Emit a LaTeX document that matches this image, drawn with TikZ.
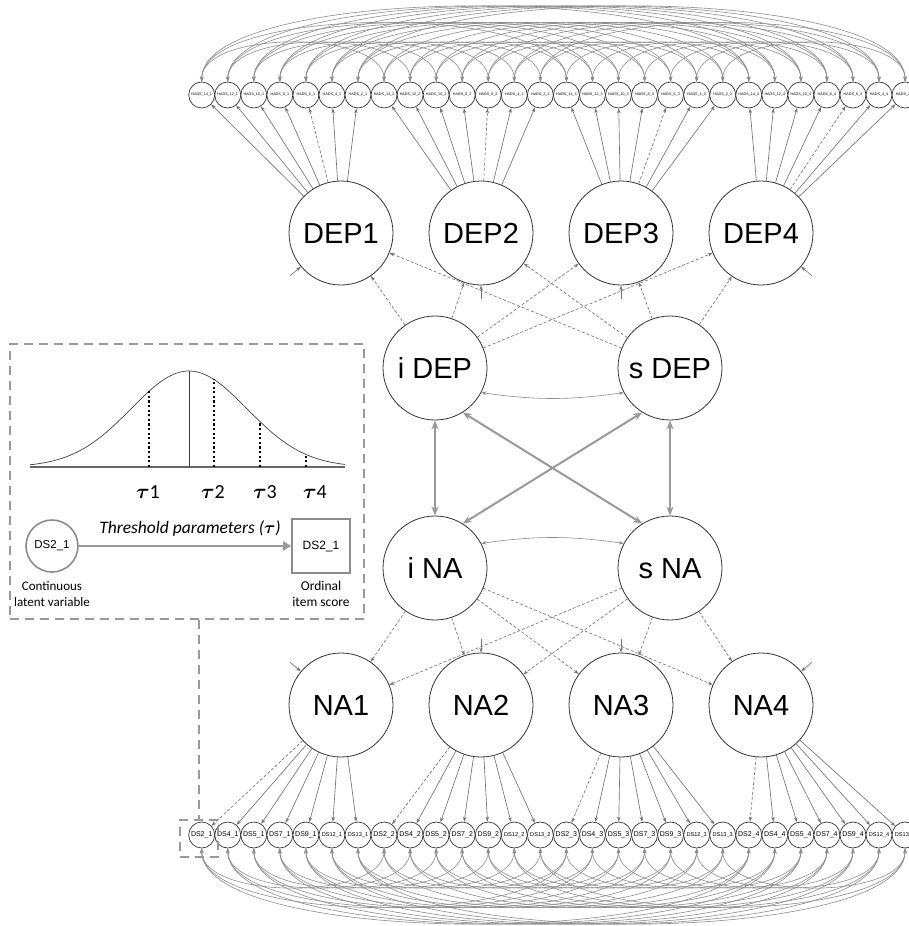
\documentclass[tikz,border=0pt]{standalone}
\usepackage{amsmath}
\usepackage{fontspec}
\setmainfont{Liberation Sans}
\newfontfamily\calib{Carlito}
\usetikzlibrary{arrows.meta,calc}
\begin{document}
\begin{tikzpicture}[x=1pt,y=-1pt,
  lat/.style={circle,draw=black!80,line width=0.8pt,fill=white,minimum size=104pt,inner sep=0pt,text height=21pt,text depth=0pt,font=\fontsize{29}{30}\selectfont},
  itm/.style={circle,draw=black!80,line width=0.7pt,fill=white,minimum size=26pt,inner sep=0pt},
  ld/.style={draw=black!55,line width=0.65pt,-{Stealth[length=5pt,width=3.5pt]}},
  ldd/.style={ld,dash pattern=on 3pt off 2pt},
  cov/.style={draw=black!45,line width=0.6pt,{Stealth[length=5pt,width=3.5pt]}-{Stealth[length=5pt,width=3.5pt]}},
  thk/.style={draw=black!40,line width=2pt,{Stealth[length=9pt,width=7pt]}-{Stealth[length=9pt,width=7pt]}},
  boxdash/.style={draw=black!40,line width=2.2pt,dash pattern=on 9pt off 6pt},
]
\useasboundingbox (0,0) rectangle (909,926);

% latent factors
\foreach \k/\x in {1/341,2/481,3/621,4/761} {
  \node[lat] (DEP\k) at (\x,233) {DEP\k};
  \node[lat] (NA\k) at (\x,705) {NA\k};
}
\node[lat] (iDEP) at (435,368) {i DEP};
\node[lat] (sDEP) at (670,368) {s DEP};
\node[lat] (iNA) at (435,568) {i NA};
\node[lat] (sNA) at (670,568) {s NA};

% items and loadings
\foreach \k in {1,...,4} {
  \foreach \q [count=\c] in {14,12,10,8,6,4,2} {
    \pgfmathtruncatemacro\n{(\k-1)*7+\c}
    \node[itm,font=\fontsize{3.7}{4}\selectfont] (t\n) at ({201.7+(\n-1)*26.05},95) {HADS\_\q\_\k};
    \ifnum\c=5 \draw[ldd] (DEP\k) -- (t\n); \else \draw[ld] (DEP\k) -- (t\n); \fi
  }
  \foreach \q [count=\c] in {2,4,5,7,9,12,13} {
    \pgfmathtruncatemacro\n{(\k-1)*7+\c}
    \node[itm] (b\n) at ({201.7+(\n-1)*26.05},835) {\ifnum\q>9\fontsize{5.6}{6}\else\fontsize{7}{8}\fi\selectfont DS\q\_\k};
    \ifnum\c=1 \draw[ldd] (NA\k) -- (b\n); \else \draw[ld] (NA\k) -- (b\n); \fi
  }
}

% residual covariances among items
\foreach \i in {1,...,21} {
  \foreach \m/\h in {1/52,2/78,3/100} {
    \pgfmathtruncatemacro\j{\i+7*\m}
    \ifnum\j<29
      \draw[cov] (t\i.north) .. controls +(0,-\h) and +(0,-\h) .. (t\j.north);
      \draw[cov] (b\i.south) .. controls +(0,\h) and +(0,\h) .. (b\j.south);
    \fi
  }
}

% residual arrows on factors
\foreach \nd/\a in {DEP1/220,DEP2/270,DEP3/270,DEP4/320,NA1/140,NA2/90,NA3/90,NA4/40}
  \draw[ld] ([shift={(\a:14pt)}]\nd.\a) -- (\nd.\a);

% growth loadings
\foreach \k in {1,...,4} {
  \draw[ldd] (iDEP) -- (DEP\k);
  \draw[ldd] (sDEP) -- (DEP\k);
  \draw[ldd] (iNA) -- (NA\k);
  \draw[ldd] (sNA) -- (NA\k);
}

% covariances among growth factors
\draw[cov] (iDEP.-28) to[bend right=8] (sDEP.208);
\draw[cov] (iNA.28) to[bend left=8] (sNA.152);
\draw[thk] (iDEP) -- (iNA);
\draw[thk] (sDEP) -- (sNA);
\draw[thk] (iDEP.-58) -- (sNA.122);
\draw[thk] (sDEP.238) -- (iNA.58);

% inset
\node[boxdash,minimum width=354pt,minimum height=275pt,inner sep=0pt] (inset) at (187,481.5) {};
\node[boxdash,minimum width=38pt,minimum height=37pt,inner sep=0pt] (sel) at (199,838.5) {};
\draw[boxdash] (inset.south -| sel.north) -- (sel.north);

\draw[black!60,line width=1.2pt] (30,467) -- (345,467);
\draw[black!75,line width=0.7pt,domain=30:345,samples=120,smooth] plot (\x,{467-96*exp(-((\x-189)/58)^2/2)});
\draw[black!75,line width=0.5pt] (189,467) -- (189,371);
\foreach \t in {149,214,260,306}
  \draw[black,line width=2.3pt,dash pattern=on 2.3pt off 2.3pt] (\t,467) -- (\t,{467-96*exp(-((\t-189)/58)^2/2)});
\foreach \t/\x/\d in {1/148/1,2/213/2,3/265/3,4/315/4}
  \node[font=\fontsize{20}{22}\selectfont] (tau\t) at (\x,492) {$\boldsymbol{\tau}$\calib\d};

\node[circle,draw=black!45,line width=1.6pt,minimum size=52pt,inner sep=0pt,font=\fontsize{11.5}{13}\selectfont] (ic) at (52,546) {DS2\_1};
\node[draw=black!45,line width=1.6pt,minimum width=58pt,minimum height=54pt,inner sep=0pt,font=\fontsize{12}{14}\selectfont] (is) at (321,546) {DS2\_1};
\draw[draw=black!40,line width=2.5pt,-{Triangle[length=8pt,width=9pt]}] (ic) -- (is);
\node[font=\calib\itshape\fontsize{17.5}{19}\selectfont] (thr) at (190,529) {Threshold parameters ($\boldsymbol{\tau}$)};
\node[align=center,font=\calib\fontsize{13}{16}\selectfont] (cl) at (52,594) {Continuous\\latent variable};
\node[align=center,font=\calib\fontsize{13.5}{16}\selectfont] (ol) at (321,594) {Ordinal\\item score};
\end{tikzpicture}
\end{document}
